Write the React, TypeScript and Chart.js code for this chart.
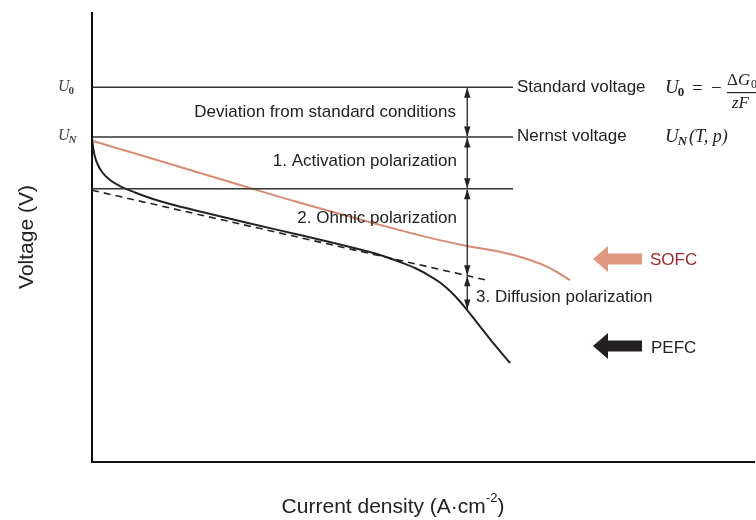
import { useEffect, useRef } from "react";
import { Chart, registerables } from "chart.js";
Chart.register(...registerables);

// ---- data (relative units: x = current density, y = voltage) ----
const pefcX = [0, 0.15, 0.45, 0.9, 1.51, 2.71, 4.22, 6.49, 8.75, 11.76, 16.29, 23.83, 31.37, 38.91, 43.44, 46.46, 48.72, 50.98, 52.49, 54.0, 55.51, 56.56, 60.03, 63.05];
const pefcY = [72.22, 70.0, 67.78, 66.0, 64.44, 62.67, 61.33, 59.89, 58.67, 57.33, 55.67, 53.0, 50.44, 47.78, 46.0, 44.44, 43.11, 41.33, 39.89, 38.0, 35.67, 33.78, 27.33, 22.0];
const sofcX = [0, 19.31, 31.37, 43.44, 50.98, 56.56, 61.54, 66.06, 69.08, 72.1];
const sofcY = [71.4, 62.9, 57.6, 52.7, 49.8, 48.0, 46.7, 44.9, 43.1, 40.4];
const ohmicX = [0, 59.58];
const ohmicY = [60.4, 40.4];
const levelNames = ["U0", "UN", "activation"];
const levelY = [83.3, 72.2, 60.7];
const levelEndX = 63.5;
const arrowX = 56.6;
const arrowStops = [83.3, 72.2, 60.7, 41.4, 33.78];

const pts = (xs: number[], ys: number[]) => xs.map((x, i) => ({ x, y: ys[i] }));

const SANS = '"Liberation Sans", Arial, sans-serif';
const SERIF = '"Liberation Serif", "DejaVu Serif", serif';

const decor = {
  id: "decor",
  afterDatasetsDraw(chart: any) {
    const { ctx, chartArea: a, scales } = chart;
    const xs = scales.x, ys = scales.y;
    ctx.save();
    // axes
    ctx.strokeStyle = "#111";
    ctx.lineWidth = 2;
    ctx.beginPath();
    ctx.moveTo(a.left, a.top);
    ctx.lineTo(a.left, a.bottom);
    ctx.lineTo(a.right, a.bottom);
    ctx.stroke();

    // double arrows
    const px = xs.getPixelForValue(arrowX);
    ctx.strokeStyle = "#222";
    ctx.fillStyle = "#222";
    ctx.lineWidth = 1.3;
    const head = (y: number, dir: number) => {
      ctx.beginPath();
      ctx.moveTo(px, y);
      ctx.lineTo(px - 3.2, y + dir * 10);
      ctx.lineTo(px + 3.2, y + dir * 10);
      ctx.closePath();
      ctx.fill();
    };
    for (let i = 0; i < arrowStops.length - 1; i++) {
      const y1 = ys.getPixelForValue(arrowStops[i]);
      const y2 = ys.getPixelForValue(arrowStops[i + 1]);
      ctx.beginPath();
      ctx.moveTo(px, y1 + 1);
      ctx.lineTo(px, y2 - 1);
      ctx.stroke();
      head(y1 + 0.5, 1);
      head(y2 - 0.5, -1);
    }

    // inner labels
    ctx.fillStyle = "#222";
    ctx.textBaseline = "middle";
    ctx.font = `17px ${SANS}`;
    ctx.textAlign = "right";
    ctx.fillText("Deviation from standard conditions", 456, 112);
    ctx.fillText("1. Activation polarization", 457, 161);
    ctx.fillText("2. Ohmic polarization", 457, 218);
    ctx.textAlign = "left";
    ctx.fillText("3. Diffusion polarization", 476, 297);
    ctx.fillText("Standard voltage", 517, 87);
    ctx.fillText("Nernst voltage", 517, 136);

    // U labels
    const uLabel = (x: number, y: number, sub: string, subItalic: boolean, size: number) => {
      ctx.font = `italic ${size}px ${SERIF}`;
      ctx.fillText("U", x, y);
      const w = ctx.measureText("U").width;
      ctx.font = `${subItalic ? "italic " : ""}bold ${Math.round(size * 0.68)}px ${SERIF}`;
      ctx.fillText(sub, x + w - 1, y + size * 0.27);
      return w + ctx.measureText(sub).width - 1;
    };
    ctx.fillStyle = "#444";
    uLabel(58, 87, "0", false, 16);
    uLabel(58, 136, "N", true, 16);

    // formulas
    ctx.fillStyle = "#222";
    uLabel(665, 88, "0", false, 19);
    ctx.font = `19px ${SERIF}`;
    ctx.fillText("=", 692, 89);
    ctx.fillText("\u2212", 711, 89);
    ctx.font = `17px ${SERIF}`;
    ctx.fillText("\u0394", 727, 81);
    ctx.font = `italic 17px ${SERIF}`;
    ctx.fillText("G", 738, 81);
    ctx.font = `12px ${SERIF}`;
    ctx.fillText("0", 751, 85);
    ctx.fillRect(727, 92, 40, 1.2);
    ctx.font = `italic 17px ${SERIF}`;
    ctx.fillText("zF", 732, 104);
    const wu = uLabel(665, 137, "N", true, 19);
    ctx.font = `italic 18px ${SERIF}`;
    ctx.fillText("(T, p)", 665 + wu + 2, 137);

    // block arrows
    const block = (y: number, color: string) => {
      ctx.fillStyle = color;
      ctx.beginPath();
      ctx.moveTo(593, y);
      ctx.lineTo(608, y - 13);
      ctx.lineTo(608, y - 5.5);
      ctx.lineTo(642, y - 5.5);
      ctx.lineTo(642, y + 5.5);
      ctx.lineTo(608, y + 5.5);
      ctx.lineTo(608, y + 13);
      ctx.closePath();
      ctx.fill();
    };
    block(259, "#e0967f");
    block(346, "#231f20");
    ctx.font = `17px ${SANS}`;
    ctx.fillStyle = "#a3282c";
    ctx.fillText("SOFC", 650, 260);
    ctx.fillStyle = "#231f20";
    ctx.fillText("PEFC", 651, 348);

    // axis titles
    ctx.fillStyle = "#222";
    ctx.font = `21px ${SANS}`;
    ctx.textAlign = "left";
    const t1 = "Current density (A\u00b7cm";
    const w1 = ctx.measureText(t1).width;
    ctx.font = `13px ${SANS}`;
    const wsup = ctx.measureText("-2").width;
    ctx.font = `21px ${SANS}`;
    const wend = ctx.measureText(")").width;
    const total = w1 + wsup + wend;
    const sx = 393 - total / 2;
    ctx.fillText(t1, sx, 507);
    ctx.font = `13px ${SANS}`;
    ctx.fillText("-2", sx + w1, 498);
    ctx.font = `21px ${SANS}`;
    ctx.fillText(")", sx + w1 + wsup, 507);

    ctx.translate(27, 237);
    ctx.rotate(-Math.PI / 2);
    ctx.textAlign = "center";
    ctx.fillText("Voltage (V)", 0, 0);
    ctx.restore();
  },
};

export default function App() {
  const ref = useRef<HTMLCanvasElement>(null);
  useEffect(() => {
    if (!ref.current) return;
    const levelSets = levelY.map((y, i) => ({
      label: levelNames[i],
      data: [{ x: 0, y }, { x: levelEndX, y }],
      borderColor: "#333",
      borderWidth: 1.5,
      pointRadius: 0,
    }));
    const chart = new Chart(ref.current, {
      type: "line",
      data: {
        datasets: [
          ...levelSets,
          {
            label: "Ohmic",
            data: pts(ohmicX, ohmicY),
            borderColor: "#222",
            borderWidth: 1.6,
            borderDash: [7, 5],
            pointRadius: 0,
          },
          {
            label: "SOFC",
            data: pts(sofcX, sofcY),
            borderColor: "#d98a70",
            borderWidth: 2,
            pointRadius: 0,
            tension: 0.4,
          },
          {
            label: "PEFC",
            data: pts(pefcX, pefcY),
            borderColor: "#222",
            borderWidth: 2,
            pointRadius: 0,
            cubicInterpolationMode: "monotone",
          },
        ],
      },
      options: {
        responsive: false,
        animation: false,
        layout: { padding: { left: 92, right: 1, top: 12, bottom: 58 } },
        plugins: { legend: { display: false }, tooltip: { enabled: false } },
        scales: {
          x: { type: "linear", min: 0, max: 100, display: false },
          y: { type: "linear", min: 0, max: 100, display: false },
        },
      },
      plugins: [decor],
    });
    return () => chart.destroy();
  }, []);
  return (
    <div style={{ position: "fixed", left: 0, top: 0, width: 756, height: 520, background: "#fff" }}>
      <canvas ref={ref} width={756} height={520} />
    </div>
  );
}
